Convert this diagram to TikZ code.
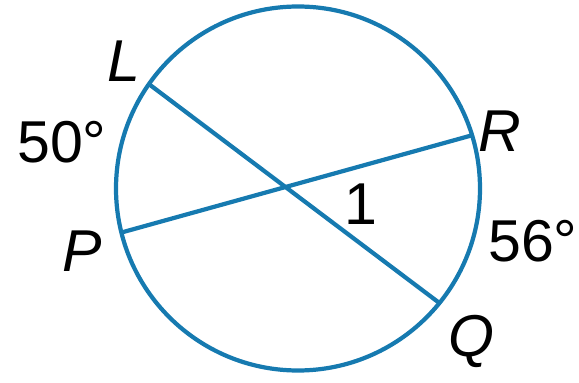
\documentclass[tikz,border=0pt]{standalone}
\usepackage{fontspec}
\setmainfont{Liberation Sans}
\usetikzlibrary{calc}
\definecolor{circblue}{RGB}{22,122,176}
\begin{document}
\begin{tikzpicture}[x=0.025cm,y=0.025cm]
		\tikzstyle{every node}=[font=\fontsize{42pt}{50pt}\selectfont,inner sep=0pt]
		\tikzstyle{rim}=[draw=circblue,line width=3pt]
		\tikzstyle{chord}=[draw=circblue,line width=3pt]
		\useasboundingbox (0,0) rectangle (579,382);
		
		\coordinate (O) at (298,193.5);
		\draw [rim] (O) circle [radius=182];
		
		\coordinate (L) at ($(O)+(145:182)$);
		\coordinate (R) at ($(O)+(17:182)$);
		\coordinate (P) at ($(O)+(194:182)$);
		\coordinate (Q) at ($(O)+(-39:182)$);
		
		\draw [chord] (L) -- (Q);
		\draw [chord] (P) -- (R);
		
		\node (labL) [anchor=base] at (124,300) {\itshape L};
		\node (labP) [anchor=base] at (82,110) {\itshape P};
		\node (labR) [anchor=base] at (500,230) {\itshape R};
		\node (labQ) [anchor=base] at (471,26) {\itshape Q};
		
		\node (arcLP) [anchor=base west] at (17,219) {50°};
		\node (arcRQ) [anchor=base west] at (488,120) {56°};
		\node (ang1) [anchor=base] at (361,157) {1};
		
	\end{tikzpicture}
\end{document}
